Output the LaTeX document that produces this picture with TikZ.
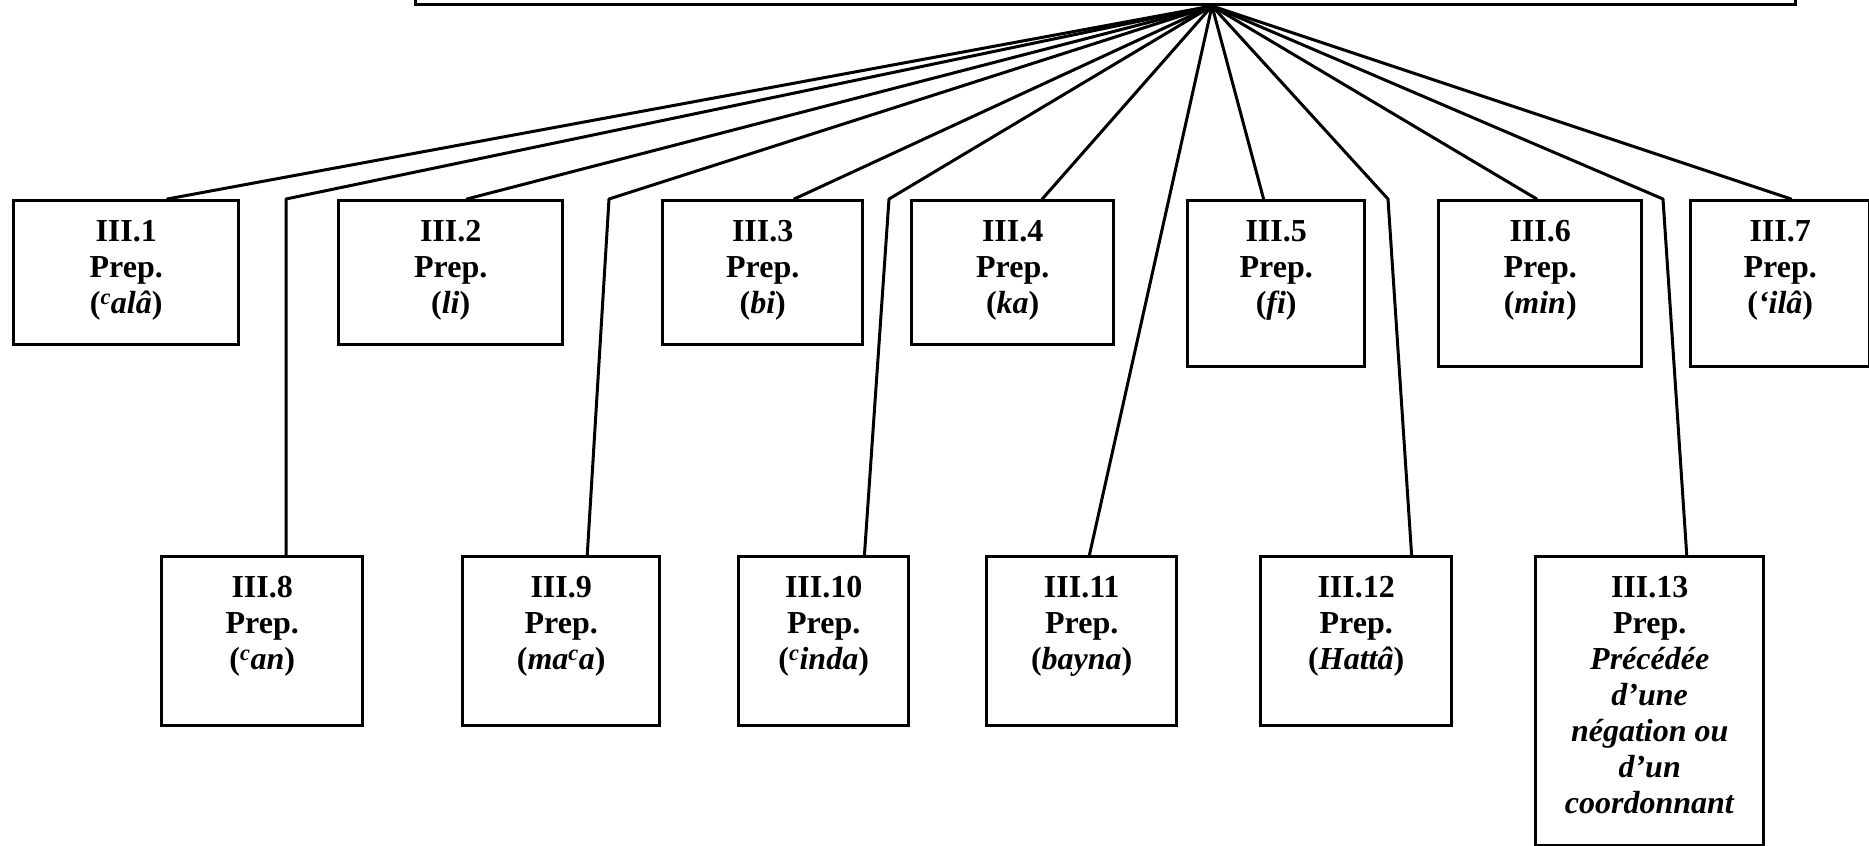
\documentclass[tikz,border=0pt]{standalone}
\usepackage{fontspec}
\setmainfont{Liberation Serif}
\usetikzlibrary{calc}

% text of one box: fixed-size cell, first baseline 41pt below the top edge
\newcommand\prepfont{\bfseries\fontsize{32}{36}\selectfont}
\newcommand\prepcell[3]{%
  \begin{minipage}[t][#2pt][t]{#1pt}\prepfont\centering
    \rule{0pt}{41pt}#3%
  \end{minipage}}
\newcommand\cc{\textsuperscript{\itshape c}}

\tikzset{
  prepbox/.style={draw, line width=3.4pt, inner sep=0pt, anchor=north west},
  link/.style={line width=3pt, line join=round, line cap=round}
}

\begin{document}
\begin{tikzpicture}[x=1pt, y=-1pt]
\useasboundingbox (0,0) rectangle (1869,846);
\clip (0,0) rectangle (1869,846);

% parent box (only its lower edge is in view)
\node[draw, line width=3.4pt, inner sep=0pt, minimum width=1380pt,
      minimum height=100pt, anchor=south west] (top) at (414,6) {};
\coordinate (hub) at ($(top.south west)+(798,0)$);

% first row
\node[prepbox] (b1) at (12,199)   {\prepcell{225}{144}{III.1\\Prep.\\(\cc\textit{alâ})}};
\node[prepbox] (b2) at (337,199)  {\prepcell{224}{144}{III.2\\Prep.\\(\textit{li})}};
\node[prepbox] (b3) at (661,199)  {\prepcell{200}{144}{III.3\\Prep.\\(\textit{bi})}};
\node[prepbox] (b4) at (910,199)  {\prepcell{202}{144}{III.4\\Prep.\\(\textit{ka})}};
\node[prepbox] (b5) at (1186,199) {\prepcell{177}{166}{III.5\\Prep.\\(\textit{fi})}};
\node[prepbox] (b6) at (1437,199) {\prepcell{203}{166}{III.6\\Prep.\\(\textit{min})}};
\node[prepbox] (b7) at (1689,199) {\prepcell{179}{166}{III.7\\Prep.\\(\textit{‘ilâ})}};

% second row
\node[prepbox] (b8)  at (160,555)  {\prepcell{201}{169}{III.8\\Prep.\\(\cc\textit{an})}};
\node[prepbox] (b9)  at (461,555)  {\prepcell{197}{169}{III.9\\Prep.\\(\textit{ma}\cc\textit{a})}};
\node[prepbox] (b10) at (737,555)  {\prepcell{170}{169}{III.10\\Prep.\\(\cc\textit{inda})}};
\node[prepbox] (b11) at (985,555)  {\prepcell{190}{169}{III.11\\Prep.\\(\textit{bayna})}};
\node[prepbox] (b12) at (1259,555) {\prepcell{191}{169}{III.12\\Prep.\\(\textit{Hattâ})}};
\node[prepbox] (b13) at (1534,555) {\prepcell{228}{289}{III.13\\Prep.\\\textit{Précédée}\\\textit{d’une}\\\textit{négation ou}\\\textit{d’un}\\\textit{coordonnant}}};

% bends of the long connectors, level with the first row
\coordinate (k8)  at (286,199);
\coordinate (k9)  at (609,199);
\coordinate (k10) at (889,199);
\coordinate (k12) at (1388,199);
\coordinate (k13) at (1663,199);

% connectors to the first row
\draw[link] (hub) -- ($(b1.north west)!0.680!(b1.north east)$);
\draw[link] (hub) -- ($(b2.north west)!0.571!(b2.north east)$);
\draw[link] (hub) -- ($(b3.north west)!0.655!(b3.north east)$);
\draw[link] (hub) -- ($(b4.north west)!0.644!(b4.north east)$);
\draw[link] (hub) -- ($(b5.north west)!0.430!(b5.north east)$);
\draw[link] (hub) -- ($(b6.north west)!0.483!(b6.north east)$);
\draw[link] (hub) -- ($(b7.north west)!0.560!(b7.north east)$);

% connectors to the second row
\draw[link] (hub) -- (k8)  -- (k8 |- b8.north);
\draw[link] (hub) -- (k9)  -- ($(b9.north west)!0.630!(b9.north east)$);
\draw[link] (hub) -- (k10) -- ($(b10.north west)!0.735!(b10.north east)$);
\draw[link] (hub) -- ($(b11.north west)!0.540!(b11.north east)$);
\draw[link] (hub) -- (k12) -- ($(b12.north west)!0.785!(b12.north east)$);
\draw[link] (hub) -- (k13) -- ($(b13.north west)!0.660!(b13.north east)$);
\end{tikzpicture}
\end{document}
